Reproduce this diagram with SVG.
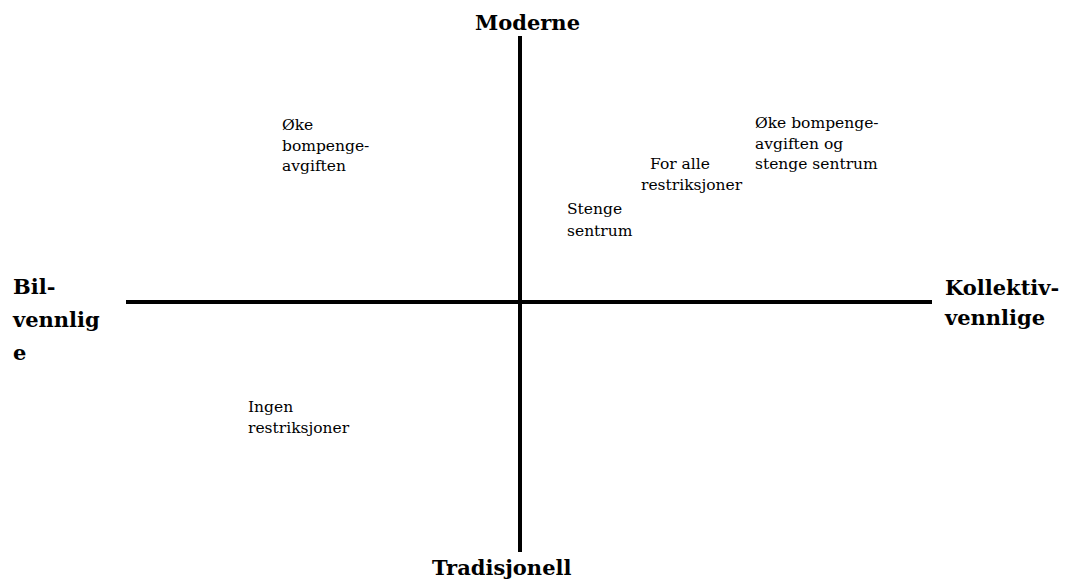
<svg xmlns="http://www.w3.org/2000/svg" width="1070" height="586" viewBox="0 0 1070 586">
  <style>
    .axis { stroke: #000; stroke-width: 4; fill: none; }
    .pole { font-family: "DejaVu Serif", "Liberation Serif", serif; font-weight: bold; font-size: 21px; fill: #000; }
    .item { font-family: "DejaVu Serif", "Liberation Serif", serif; font-size: 15.5px; fill: #000; }
  </style>
  <rect width="1070" height="586" fill="#fff"/>

  <!-- axes -->
  <g id="axes">
    <line class="axis" x1="520" y1="36" x2="520" y2="552"/>
    <line class="axis" x1="126" y1="302" x2="932" y2="302"/>
  </g>

  <!-- axis poles -->
  <g id="pole-top"><text class="pole" x="475" y="30">Moderne</text></g>
  <g id="pole-bottom"><text class="pole" x="432" y="575">Tradisjonell</text></g>
  <g id="pole-left">
    <text class="pole" x="13" y="294">Bil-</text>
    <text class="pole" x="13" y="327">vennlig</text>
    <text class="pole" x="13" y="360">e</text>
  </g>
  <g id="pole-right">
    <text class="pole" x="945" y="295">Kollektiv-</text>
    <text class="pole" x="945" y="325">vennlige</text>
  </g>

  <!-- positioned measures -->
  <g id="oke-bompenge">
    <text class="item" x="282" y="130">Øke</text>
    <text class="item" x="282" y="151">bompenge-</text>
    <text class="item" x="282" y="171">avgiften</text>
  </g>
  <g id="oke-og-stenge">
    <text class="item" x="755" y="128">Øke bompenge-</text>
    <text class="item" x="755" y="149">avgiften og</text>
    <text class="item" x="755" y="169">stenge sentrum</text>
  </g>
  <g id="for-alle">
    <text class="item" x="650" y="169">For alle</text>
    <text class="item" x="641" y="190">restriksjoner</text>
  </g>
  <g id="stenge-sentrum">
    <text class="item" x="567" y="214">Stenge</text>
    <text class="item" x="567" y="236">sentrum</text>
  </g>
  <g id="ingen">
    <text class="item" x="248" y="412">Ingen</text>
    <text class="item" x="248" y="433">restriksjoner</text>
  </g>
</svg>
